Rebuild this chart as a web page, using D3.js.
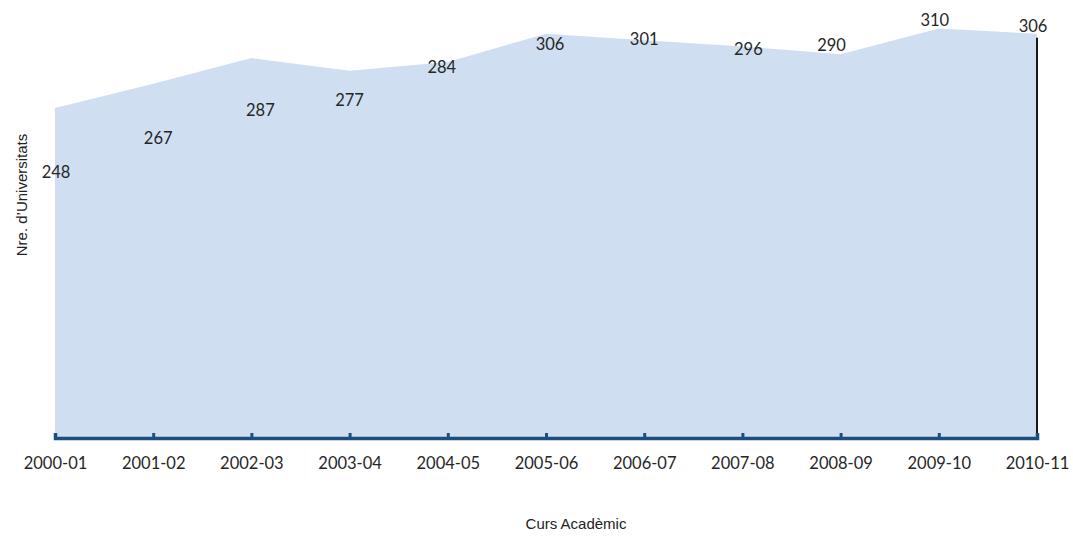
<!DOCTYPE html>
<html>
<head>
<meta charset="utf-8">
<script src="https://cdn.jsdelivr.net/npm/d3@7"></script>
<style>
  body { margin: 0; background: #fff; }
  svg { display: block; }
</style>
</head>
<body>
<svg></svg>
<script>
// x: academic year
// y: number of universities

const years = ["2000-01", "2001-02", "2002-03", "2003-04", "2004-05", "2005-06",
               "2006-07", "2007-08", "2008-09", "2009-10", "2010-11"];
const universities = [248, 267, 287, 277, 284, 306, 301, 296, 290, 310, 306];
// label offsets (px) as placed in the original chart
const labelDx = [1, 5, 9, 0, -6, 4, 0, 6, -9, -4, -4];
const labelDy = [64, 54, 52, 29, 5, 10, -1, 2, -9, -9, -8];

const width = 1073;
const height = 539;

const data = years.map((y, i) => ({ year: y, value: universities[i], dx: labelDx[i], dy: labelDy[i] }));

// Scales
const xScale = d3.scalePoint()
    .domain(years)
    .range([55, 1037]);

const yScale = d3.scaleLinear()
    .domain([-9, 330])
    .range([437, 3]);

const baseY = yScale.range()[0];

// Setup
const svg = d3.select("svg")
    .attr("width", width)
    .attr("height", height);

// Area
const area = d3.area()
    .x(d => xScale(d.year))
    .y0(baseY)
    .y1(d => yScale(d.value));

svg.append("path")
    .datum(data)
    .attr("d", area)
    .attr("fill", "#cfdff1");

// right edge line
const last = data[data.length - 1];
svg.append("line")
    .attr("x1", xScale(last.year))
    .attr("x2", xScale(last.year))
    .attr("y1", yScale(last.value) + 4)
    .attr("y2", baseY)
    .attr("stroke", "#1a1a1a")
    .attr("stroke-width", 2);

// Axis
const xAxis = d3.axisBottom(xScale)
    .tickSize(-5)
    .tickSizeOuter(-5)
    .tickPadding(19);

const gx = svg.append("g")
    .attr("transform", `translate(0, ${baseY + 1})`)
    .call(xAxis);

gx.select(".domain")
    .attr("stroke", "#1f4e7a")
    .attr("stroke-width", 3.5);
gx.selectAll(".tick line")
    .attr("stroke", "#1f4e7a")
    .attr("stroke-width", 3);
gx.selectAll(".tick text")
    .attr("font-family", "Lato, 'Open Sans', sans-serif")
    .attr("font-size", 16.5)
    .attr("fill", "#262626");

// Data labels
svg.append("g")
  .selectAll("text")
  .data(data)
  .enter()
  .append("text")
    .attr("x", d => xScale(d.year) + d.dx)
    .attr("y", d => yScale(d.value) + d.dy)
    .attr("text-anchor", "middle")
    .attr("dominant-baseline", "central")
    .attr("font-family", "Lato, 'Open Sans', sans-serif")
    .attr("font-size", 16.5)
    .attr("fill", "#262626")
    .text(d => d.value);

// Titles
svg.append("text")
    .text("Curs Acadèmic")
    .attr("x", 576)
    .attr("y", 523)
    .attr("text-anchor", "middle")
    .attr("dominant-baseline", "central")
    .attr("font-family", "'Liberation Sans', Arial, sans-serif")
    .attr("font-size", 15)
    .attr("fill", "#222");

svg.append("text")
    .text("Nre. d’Universitats")
    .attr("transform", "translate(21, 195) rotate(-90)")
    .attr("text-anchor", "middle")
    .attr("dominant-baseline", "central")
    .attr("font-family", "'Liberation Sans', Arial, sans-serif")
    .attr("font-size", 15)
    .attr("fill", "#222");
</script>
</body>
</html>
